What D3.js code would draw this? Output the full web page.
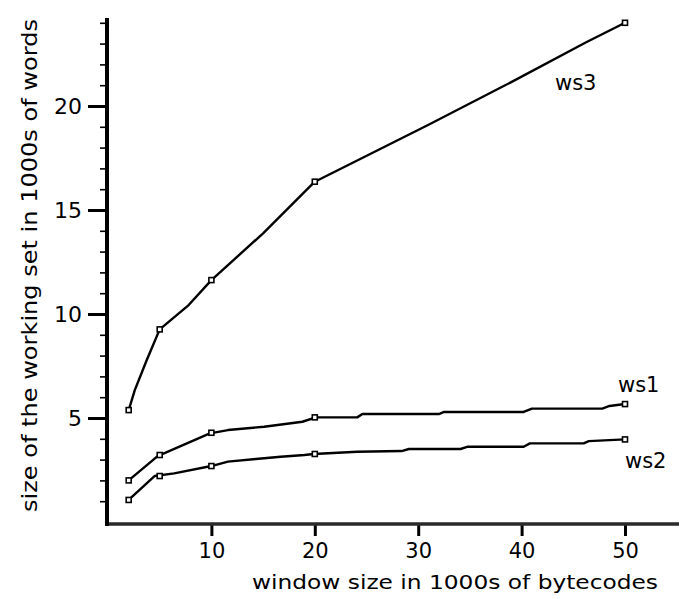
<!DOCTYPE html>
<html><head><meta charset="utf-8">
<script src="https://cdn.jsdelivr.net/npm/d3@7"></script>
<style>
html,body{margin:0;padding:0;background:#fff;}
svg{display:block;}
text{font-family:"DejaVu Sans",sans-serif;fill:#000;}
</style></head>
<body>
<svg id="chart" width="681" height="599"></svg>
<script>
// ---- data ----
const ws1X = [2, 4.8, 9.85, 11.6, 15.1, 18.8, 20.1, 24.1, 24.6, 32.0, 32.5, 40.2, 41.0, 47.8, 48.5, 50];
const ws1Y = [2.0, 3.17, 4.26, 4.42, 4.58, 4.82, 5.03, 5.03, 5.19, 5.19, 5.29, 5.29, 5.45, 5.45, 5.58, 5.67];
const ws2X = [2, 4.5, 6.4, 10.0, 11.6, 14.3, 16.7, 19.0, 19.9, 24.1, 28.4, 29.1, 34.1, 34.8, 40.2, 40.8, 46.0, 46.5, 50];
const ws2Y = [1.06, 2.21, 2.34, 2.69, 2.9, 3.03, 3.14, 3.22, 3.27, 3.38, 3.41, 3.51, 3.51, 3.62, 3.62, 3.78, 3.78, 3.89, 3.97];
const ws3X = [2, 2.6, 3.75, 5, 7.8, 10, 15, 20, 31, 39, 46.2, 50];
const ws3Y = [5.38, 6.35, 7.79, 9.26, 10.43, 11.63, 13.88, 16.36, 19.1, 21.15, 23.05, 24.0];
const markerX = [2, 5, 10, 20, 50];
const ws1Markers = [2.0, 3.22, 4.29, 5.03, 5.67];
const ws2Markers = [1.06, 2.21, 2.69, 3.27, 3.97];
const ws3Markers = [5.38, 9.26, 11.63, 16.36, 24.0];
const seriesNames = ["ws1", "ws2", "ws3"];
const xTicks = [10, 20, 30, 40, 50];
const yMajorTicks = [5, 10, 15, 20];
const yMinorTicks = [1,2,3,4,6,7,8,9,11,12,13,14,16,17,18,19,21,22,23,24];
const xTitle = "window size in 1000s of bytecodes";
const yTitle = "size of the working set in 1000s of words";

// ---- layout ----
const svg = d3.select("#chart");
const x = d3.scaleLinear().domain([0, 50]).range([108, 625]);
const y = d3.scaleLinear().domain([0, 24]).range([522, 22.8]);
const axisX0 = 107, axisY0 = 524;

// x axis
const gx = svg.append("g").attr("transform", `translate(0,${axisY0})`)
  .call(d3.axisBottom(x).tickValues(xTicks).tickSize(12).tickPadding(7).tickFormat(d3.format("d")));
gx.select(".domain").remove();
gx.selectAll(".tick line").attr("stroke", "#000").attr("stroke-width", 3);
gx.selectAll(".tick text").attr("font-size", 21).attr("font-family", "DejaVu Sans").attr("fill", "#000");
svg.append("line").attr("x1", 105).attr("x2", 679).attr("y1", axisY0).attr("y2", axisY0)
  .attr("stroke", "#2a2a2a").attr("stroke-width", 3.5);

// y axis minor ticks
const gyMinor = svg.append("g").attr("transform", `translate(${axisX0},0)`)
  .call(d3.axisLeft(y).tickValues(yMinorTicks).tickSize(7).tickFormat(""));
gyMinor.select(".domain").remove();
gyMinor.selectAll(".tick line").attr("stroke", "#000").attr("stroke-width", 1.6);

// y axis major ticks
const gy = svg.append("g").attr("transform", `translate(${axisX0},0)`)
  .call(d3.axisLeft(y).tickValues(yMajorTicks).tickSize(19).tickPadding(6).tickFormat(d3.format("d")));
gy.select(".domain").remove();
gy.selectAll(".tick line").attr("stroke", "#000").attr("stroke-width", 3);
gy.selectAll(".tick text").attr("font-size", 22).attr("font-family", "DejaVu Sans").attr("fill", "#000");

svg.append("line").attr("x1", axisX0).attr("x2", axisX0).attr("y1", 18).attr("y2", 526)
  .attr("stroke", "#000").attr("stroke-width", 4);

// titles
svg.append("text").attr("x", 252).attr("y", 589).attr("font-size", 20)
  .attr("textLength", 406).attr("lengthAdjust", "spacingAndGlyphs").text(xTitle);
svg.append("text").attr("transform", "translate(37,512) rotate(-90)").attr("font-size", 21)
  .attr("textLength", 493).attr("lengthAdjust", "spacingAndGlyphs").text(yTitle);

// lines
const line = d3.line().x(d => x(d[0])).y(d => y(d[1]));
const series = [
  {xs: ws1X, ys: ws1Y, mk: ws1Markers},
  {xs: ws2X, ys: ws2Y, mk: ws2Markers},
  {xs: ws3X, ys: ws3Y, mk: ws3Markers}
];
series.forEach(s => {
  svg.append("path").datum(s.xs.map((v, i) => [v, s.ys[i]]))
    .attr("d", line).attr("fill", "none").attr("stroke", "#000")
    .attr("stroke-width", 2.4).attr("stroke-linejoin", "round");
  svg.append("g").selectAll("rect").data(markerX.map((v, i) => [v, s.mk[i]])).join("rect")
    .attr("x", d => x(d[0]) - 2.5).attr("y", d => y(d[1]) - 2.5)
    .attr("width", 5).attr("height", 5)
    .attr("fill", "#fff").attr("stroke", "#000").attr("stroke-width", 1.6);
});

// series labels
const labelPos = [[618, 392], [625, 468], [555, 90]];
seriesNames.forEach((n, i) => {
  svg.append("text").attr("x", labelPos[i][0]).attr("y", labelPos[i][1])
    .attr("font-size", 21).text(n);
});
</script>
</body></html>
